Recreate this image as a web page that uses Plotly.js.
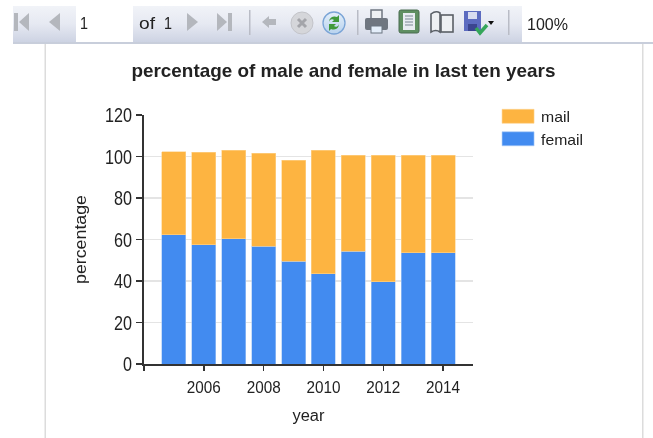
<!DOCTYPE html>
<html><head><meta charset="utf-8">
<script src="https://cdn.plot.ly/plotly-3.0.1.min.js"></script>
<style>
html,body{margin:0;padding:0;background:#fff;width:653px;height:438px;overflow:hidden}
#bg,#chart{position:absolute;left:0;top:0;width:653px;height:438px;filter:blur(0.3px)}
#bg text{font-family:"Liberation Sans",Arial,sans-serif;font-size:17px;fill:#222}
</style></head><body>
<svg id="bg" viewBox="0 0 653 438" xmlns="http://www.w3.org/2000/svg">
<defs>
<linearGradient id="tb" x1="0" y1="0" x2="0" y2="1"><stop offset="0" stop-color="#f1f3f8"/><stop offset="0.5" stop-color="#e6e9f2"/><stop offset="1" stop-color="#cdd3e3"/></linearGradient>
<linearGradient id="ref" x1="0" y1="0" x2="0" y2="1"><stop offset="0" stop-color="#e4effa"/><stop offset="1" stop-color="#b8d2ee"/></linearGradient>
</defs>
<rect x="13" y="6" width="509" height="36" fill="url(#tb)"/>
<rect x="76" y="6" width="57" height="36" fill="#fff"/>
<rect x="13" y="42" width="640" height="2" fill="#c8cedb"/>
<rect x="44.5" y="44" width="1.5" height="394" fill="#dcdcdc"/>
<rect x="642" y="44" width="1.5" height="394" fill="#dcdcdc"/>
<g fill="#b4b7bd">
<rect x="14" y="13" width="4" height="18"/><path d="M29,13V31L19,22Z"/>
<path d="M60,13V31L49,22Z"/>
<path d="M187,13V31L198,22Z"/>
<path d="M217,13V31L227,22Z"/><rect x="228" y="13" width="4" height="18"/>
<path d="M262,22L269,16V19H276V25H269V28Z"/>
</g>
<rect x="249" y="10" width="1.5" height="25" fill="#b9bcc6"/>
<rect x="357" y="10" width="1.5" height="25" fill="#b9bcc6"/>
<rect x="508" y="10" width="1.5" height="25" fill="#b9bcc6"/>
<circle cx="302" cy="23" r="11" fill="#d5d6da" stroke="#c3c4c9"/>
<path d="M298,19L306,27M306,19L298,27" stroke="#a4a5aa" stroke-width="3"/>
<circle cx="334" cy="23" r="11" fill="url(#ref)" stroke="#7aa4d6" stroke-width="1.3"/>
<path d="M329,22a5.5,5.5 0 0 1 8,-5l2,-2v7h-7l2,-2a3,3 0 0 0 -5,2Z" fill="#3f9a3c"/>
<path d="M339,24a5.5,5.5 0 0 1 -8,5l-2,2v-7h7l-2,2a3,3 0 0 0 5,-2Z" fill="#3f9a3c"/>
<rect x="371" y="10" width="11" height="9" fill="#eef0f3" stroke="#6f7680" stroke-width="1.5"/>
<rect x="365" y="18" width="23" height="12" rx="2" fill="#6f7680"/>
<rect x="371" y="26" width="11" height="7" fill="#e4eefa" stroke="#6b7480"/>
<rect x="399" y="10" width="20" height="23" rx="2" fill="#5f8f62" stroke="#4b6d50"/>
<rect x="403" y="13" width="12" height="17" fill="#e8ecf2"/>
<path d="M405,16H413M405,19H413M405,22H413M405,25H413" stroke="#7b8794"/>
<path d="M431,14q5,-4 9,-1V32q-4,-3 -9,0Z" fill="#eef0f3" stroke="#5a5f66" stroke-width="1.6"/>
<rect x="441" y="15" width="12" height="17" fill="#eef0f3" stroke="#5a5f66" stroke-width="1.6"/>
<rect x="464" y="11" width="17" height="20" fill="#5c6bc0"/>
<rect x="468" y="12" width="9" height="7" fill="#d8dcf0"/><rect x="468" y="24" width="9" height="7" fill="#3b4590"/>
<path d="M476,28L480,33L487,25" stroke="#35a65a" stroke-width="3.5" fill="none"/>
<path d="M488,21H494L491,25Z" fill="#111"/>
<text x="80" y="29" textLength="8" lengthAdjust="spacingAndGlyphs">1</text>
<text x="139" y="29" textLength="16" lengthAdjust="spacingAndGlyphs">of</text>
<text x="164" y="29" textLength="8" lengthAdjust="spacingAndGlyphs">1</text>
<text x="527" y="30" textLength="41" lengthAdjust="spacingAndGlyphs">100%</text>
</svg>
<div id="chart"></div>
<script>
var years = [2005,2006,2007,2008,2009,2010,2011,2012,2013,2014];
var femaleValues = [62.2,57.5,60.3,56.8,49.6,43.5,54.3,39.6,53.5,53.5];
var mailValues = [40.1,44.6,42.7,44.8,48.5,59.5,46.2,60.9,47,47];
var yearTickVals = [2004,2006,2008,2010,2012,2014];
var yearTickText = ['','2006','2008','2010','2012','2014'];
var percentTickVals = [0,20,40,60,80,100,120];
var FONT = '"Liberation Sans",Arial,sans-serif';
var traces = [
 {type:'bar',name:'femail',x:years,y:femaleValues,width:0.8,marker:{color:'#428bf0',line:{color:'#a9c9f5',width:0.6}}},
 {type:'bar',name:'mail',x:years,y:mailValues,width:0.8,marker:{color:'#fdb441',line:{color:'#fdd391',width:0.6}}}
];
var layout = {
 width:653,height:438,autosize:false,barmode:'stack',
 paper_bgcolor:'rgba(0,0,0,0)',plot_bgcolor:'rgba(0,0,0,0)',
 margin:{l:144,r:180,t:114.5,b:74},
 title:{text:'percentage of male and female in last ten years',font:{family:FONT,size:18.5,weight:700,color:'#222'},x:0.526,xanchor:'center',y:0.838,yanchor:'middle'},
 xaxis:{range:[2004,2015],tickmode:'array',tickvals:yearTickVals,ticktext:yearTickText,ticks:'outside',ticklen:5,tickwidth:1.5,tickcolor:'#333',ticklabelstandoff:3,
  showline:true,linecolor:'#333',linewidth:2,showgrid:false,zeroline:false,
  tickfont:{family:FONT,size:16,color:'#222'},title:{text:'year',font:{family:FONT,size:16,color:'#222'},standoff:15}},
 yaxis:{range:[0,120],tickmode:'array',tickvals:percentTickVals,ticks:'outside',ticklen:6,tickwidth:1.5,tickcolor:'#333',
  showline:true,linecolor:'#333',linewidth:2,showgrid:true,gridcolor:'#e4e4e4',gridwidth:1.5,zeroline:false,
  tickfont:{family:FONT,size:20.5,color:'#222'},title:{text:'percentage',font:{family:FONT,size:16,color:'#222'},standoff:7}},
 legend:{x:(502-144)/329-0.012,xanchor:'left',y:1.06,yanchor:'top',font:{family:FONT,size:15,color:'#222'},tracegroupgap:0,itemclick:false}
};
function fit(el,len){el.setAttribute('textLength',len);el.setAttribute('lengthAdjust','spacingAndGlyphs');}
Plotly.newPlot('chart',traces,layout,{displayModeBar:false,staticPlot:true}).then(function(gd){
 gd.querySelectorAll('.legend .legendpoints path').forEach(function(p){p.setAttribute('d','M16,7H-16V-7H16Z');});
 gd.querySelectorAll('.legend text.legendtext').forEach(function(t){
  fit(t,t.textContent==='mail'?29:42);
  t.setAttribute('x',+t.getAttribute('x')+3);
 });
 gd.querySelectorAll('.ytick text').forEach(function(t){fit(t,t.textContent.length*9);});
 gd.querySelectorAll('.xtick text').forEach(function(t){if(t.textContent)fit(t,34);});
 var g=gd.querySelector('.gtitle'); if(g)fit(g,424);
 var yt=gd.querySelector('.ytitle'); if(yt)fit(yt,89);
 var xt=gd.querySelector('.xtitle'); if(xt)fit(xt,32);
});
</script>
</body></html>
